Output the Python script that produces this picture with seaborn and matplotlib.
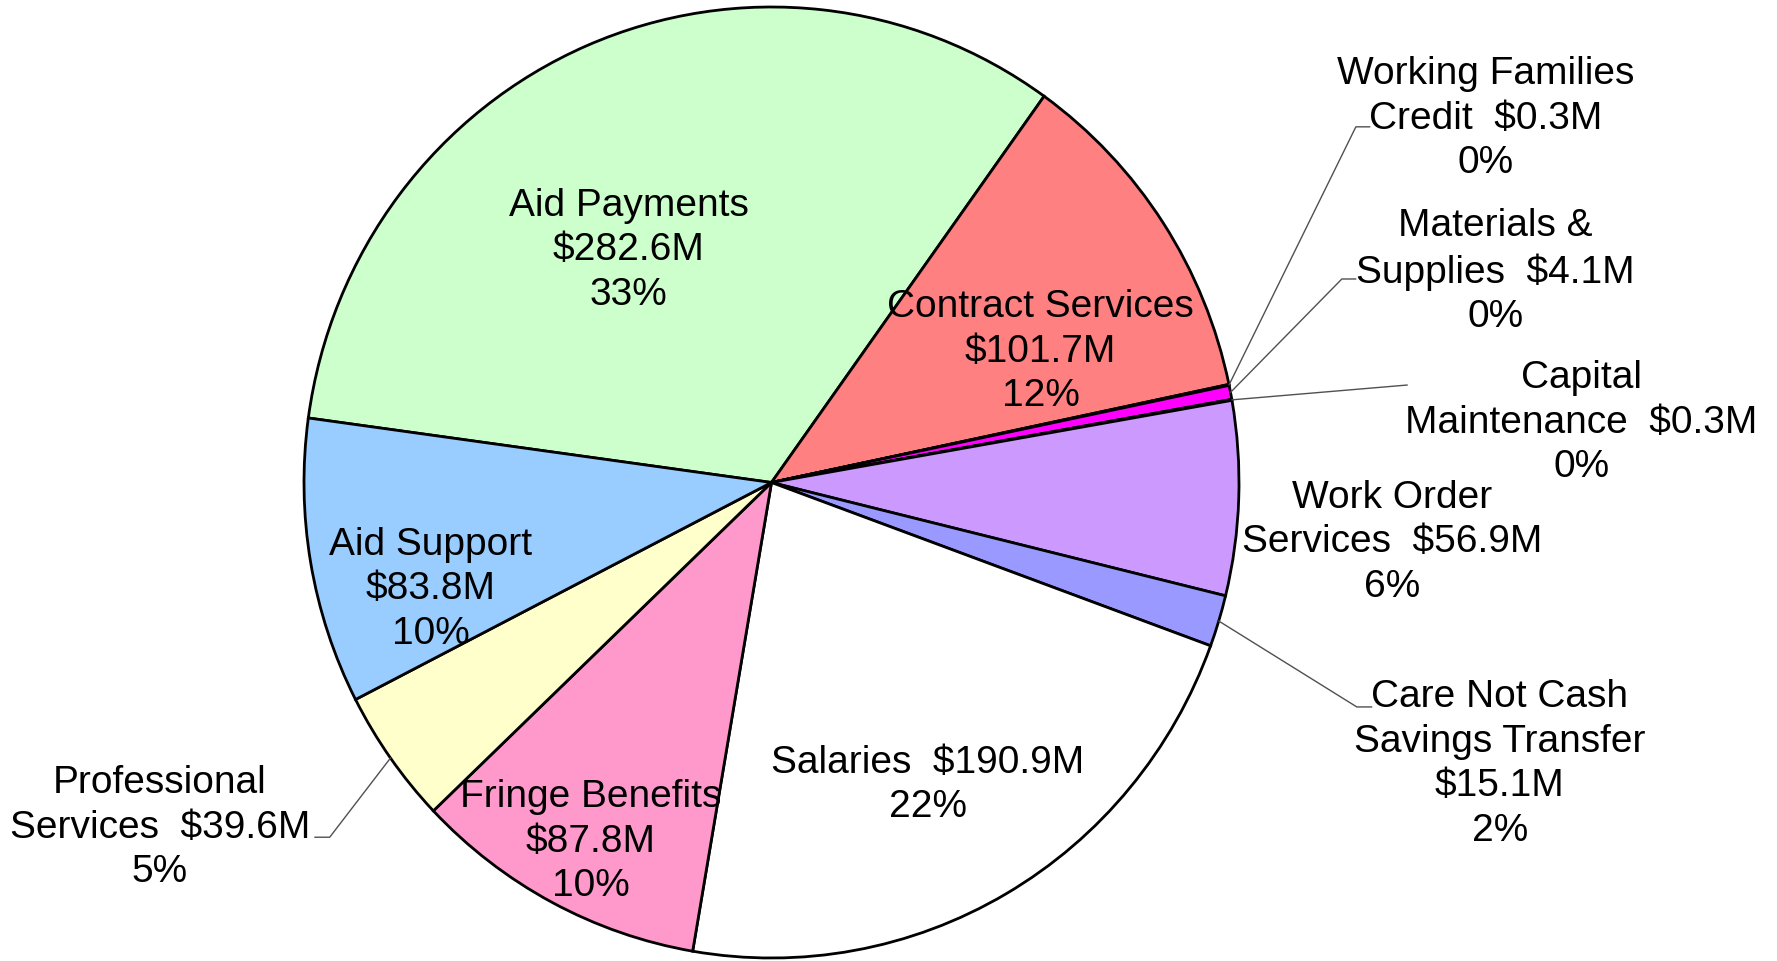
import numpy as np
import matplotlib
matplotlib.use("Agg")
import matplotlib.pyplot as plt
import seaborn as sns

# data (clockwise from Aid Payments)
categories = ["Aid Payments", "Contract Services", "Working Families\nCredit",
              "Materials &\nSupplies", "Capital\nMaintenance", "Work Order\nServices",
              "Care Not Cash\nSavings Transfer", "Salaries", "Fringe Benefits",
              "Professional\nServices", "Aid Support"]
amounts = [282.6, 101.7, 0.3, 4.1, 0.3, 56.9, 15.1, 190.9, 87.8, 39.6, 83.8]
pct_labels = ["33%", "12%", "0%", "0%", "0%", "6%", "2%", "22%", "10%", "5%", "10%"]
colors = ["#CCFFCC", "#FF8080", "#993366", "#FF00FF", "#FFFF00", "#CC99FF",
          "#9999FF", "#FFFFFF", "#FF99CC", "#FFFFCC", "#99CCFF"]

sns.set_theme(style="white")
plt.rcParams["font.family"] = ["Liberation Sans", "DejaVu Sans"]

fig = plt.figure(figsize=(17.77, 9.61), dpi=100)
# the original pie is a touch taller than wide
ax = fig.add_axes([304 / 1777, 3 / 961, 935 / 1777, 951 / 961])

wedges, _ = ax.pie(amounts, colors=colors, startangle=172.2, counterclock=False,
                   radius=1.0, wedgeprops=dict(edgecolor="black", linewidth=2.0))
ax.set_xlim(-1, 1)
ax.set_ylim(-1, 1)
ax.set_aspect("auto")
ax.axis("off")


def label_text(i):
    name = categories[i]
    amt = f"${amounts[i]:.1f}M"
    if i == 6:
        return f"{name}\n{amt}\n{pct_labels[i]}"
    if "\n" in name or i == 7:
        return f"{name}  {amt}\n{pct_labels[i]}"
    return f"{name}\n{amt}\n{pct_labels[i]}"


# label centres (axes data units) and optional leader elbows
label_pos = {0: (-0.305, 0.488), 1: (0.576, 0.275), 10: (-0.729, -0.225),
             8: (-0.386, -0.755), 7: (0.334, -0.636), 5: (1.327, -0.126),
             2: (1.528, 0.765), 3: (1.548, 0.443), 4: (1.732, 0.126),
             6: (1.558, -0.592), 9: (-1.308, -0.726)}
elbows = {2: [(1.250, 0.748), (1.280, 0.748)],
          3: [(1.220, 0.428), (1.250, 0.428)],
          4: [(1.360, 0.205)],
          6: [(1.252, -0.472), (1.284, -0.472)],
          9: [(-0.945, -0.746), (-0.977, -0.746)]}

for i, (x, y) in label_pos.items():
    ax.text(x, y, label_text(i), ha="center", va="center", fontsize=28,
            linespacing=1.3, color="black")

for i, pts in elbows.items():
    w = wedges[i]
    mid = np.deg2rad((w.theta1 + w.theta2) / 2)
    xs = [np.cos(mid)] + [p[0] for p in pts]
    ys = [np.sin(mid)] + [p[1] for p in pts]
    ax.plot(xs, ys, color="#505050", linewidth=1.0, clip_on=False)

fig.savefig("out.png", dpi=100, facecolor="white")
